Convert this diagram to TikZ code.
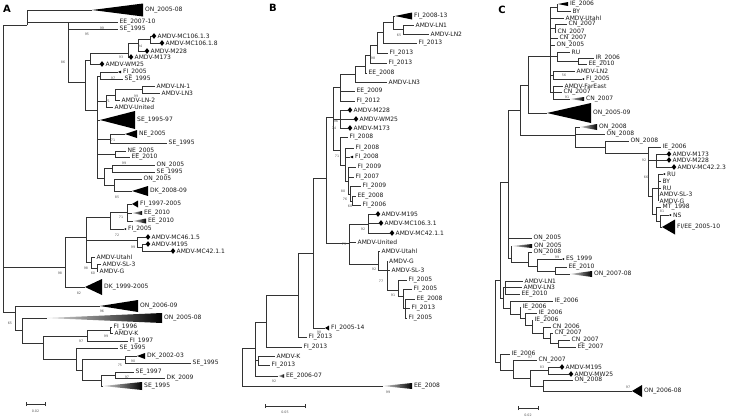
\documentclass[tikz,border=0pt]{standalone}
\usepackage{fontspec}
\setmainfont{DejaVu Sans}
\usetikzlibrary{shapes.geometric}
\tikzset{
 br/.style={draw=black!80, line width=0.75pt},
 lab/.style={anchor=west, inner sep=0pt, font=\fontsize{6}{6}\selectfont, text=black!90},
 bsv/.style={inner sep=0pt, font=\fontsize{3.3}{4}\selectfont, text=black!65},
 dm/.style={diamond, fill=black, inner sep=0pt, minimum width=4.8pt, minimum height=5.8pt},
 plab/.style={inner sep=0pt, font=\fontsize{10}{10}\selectfont\bfseries},
}
% internal node: parent, name, x, y
\newcommand\tIn[4]{\coordinate (#2) at (#3,#4); \draw[br] (#1) |- (#2);}
% leaf: parent, name, x, y, label
\newcommand\tLf[5]{\coordinate (#2) at (#3,#4); \draw[br] (#1) |- (#2); \node[lab] (#2t) at ([xshift=1.5pt]#2) {#5};}
% diamond leaf
\newcommand\tDm[5]{\coordinate (#2) at (#3,#4); \draw[br] (#1) |- (#2); \node[dm] (#2d) at ([xshift=2pt]#2) {}; \node[lab] (#2t) at ([xshift=5.5pt]#2) {#5};}
% collapsed triangle: parent, name, xa, y, xb, h, label
\newcommand\tTr[7]{\coordinate (#2) at (#3,#4); \draw[br] (#1) |- (#2); \fill[black] (#2) -- (#5,#4-#6) -- (#5,#4+#6) -- cycle; \node[lab] (#2t) at (#5+2,#4) {#7};}
% shaded wedge
\newcommand\tWg[7]{\coordinate (#2) at (#3,#4); \draw[br] (#1) |- (#2); \shade[left color=black!15, middle color=black!85, right color=black] (#2) -- (#5,#4-#6) -- (#5,#4+#6) -- cycle; \node[lab] (#2t) at (#5+2,#4) {#7};}
% bootstrap value
\newcommand\tBs[4]{\node[bsv] (#1) at (#2,#3) {#4};}
\begin{document}
\begin{tikzpicture}[x=1pt,y=-1pt]
\fill[white] (0,0) rectangle (729,418);
\useasboundingbox (0,0) rectangle (729,418);

% ================= PANEL A =================
\node[plab] (pA) at (7,9) {A};
\coordinate (aR) at (3,267);
\tIn{aR}{a1}{27}{25}
\tTr{a1}{aL1}{92}{10}{143}{6.5}{ON\_2005-08}
\tIn{a1}{a86}{68}{22}
\tLf{a86}{aL2}{118}{22}{EE\_2007-10}
\tLf{a86}{aL3}{118}{29}{SE\_1995}
\tIn{a86}{a85}{85}{82}
\tIn{a85}{aWM}{90}{60}
\tDm{aWM}{aL8}{100}{64}{AMDV-WM25}
\tIn{aWM}{aM173}{128}{53}
\tDm{aM173}{aL7}{129}{57}{AMDV-M173}
\tIn{aM173}{aM228}{138}{43}
\tDm{aM228}{aL6}{145}{51}{AMDV-M228}
\tIn{aM228}{aMC}{150}{39.5}
\tDm{aMC}{aL4}{152}{36}{AMDV-MC106.1.3}
\tDm{aMC}{aL5}{160}{43}{AMDV-MC106.1.8}
\tIn{a85}{a96}{97}{110}
\tIn{a96}{a97}{100}{76}
\tTr{a97}{aL9}{118}{72}{121}{1.3}{FI\_2005}
\tLf{a97}{aL10}{123}{79}{SE\_1995}
\tIn{a96}{a71}{106}{101}
\tIn{a71}{aLN2}{115}{95}
\tIn{aLN2}{aLN}{142}{89.5}
\tLf{aLN}{aL11}{155}{86}{AMDV-LN-1}
\tLf{aLN}{aL12}{160}{93}{AMDV-LN3}
\tLf{aLN2}{aL13}{120}{100}{AMDV-LN-2}
\tLf{a71}{aL14}{113}{107}{AMDV-United}
\tTr{a96}{aL15}{100}{120}{135}{9}{SE\_1995-97}
\tIn{a96}{a71b}{110}{139}
\tTr{a71b}{aL16}{125}{134}{137}{4}{NE\_2005}
\tLf{a71b}{aL17}{167}{143}{SE\_1995}
\tIn{a96}{aNE}{115}{154}
\tLf{aNE}{aL18}{126}{151}{NE\_2005}
\tLf{aNE}{aL19}{130}{157}{EE\_2010}
\tIn{a96}{aBk}{104}{178}
\tIn{aBk}{a99b}{112}{168}
\tLf{a99b}{aL20}{155}{165}{ON\_2005}
\tLf{a99b}{aL21}{155}{172}{SE\_1995}
\tIn{aBk}{aDK}{114}{185}
\tLf{aDK}{aL22}{142}{179}{ON\_2005}
\tTr{aDK}{aL23}{132}{191}{148}{5}{DK\_2008-09}
\tIn{aR}{a98}{65}{267}
\tIn{a98}{aX}{86}{237}
\tIn{aX}{a110}{110}{217}
\tIn{a110}{aFIb}{127}{212}
\tTr{aFIb}{aL24}{132}{204}{138}{3.5}{FI\_1997-2005}
\tWg{aFIb}{aL25}{132}{213}{142}{2}{EE\_2010}
\tWg{aFIb}{aL26}{133}{221}{146}{2.5}{EE\_2010}
\tTr{a110}{aL27}{124}{229}{126}{1}{FI\_2005}
\tIn{aX}{aMC46}{137}{240}
\tDm{aMC46}{aL28}{146}{237}{AMDV-MC46.1.5}
\tIn{aMC46}{aM195}{142}{247}
\tDm{aM195}{aL29}{146}{244}{AMDV-M195}
\tDm{aM195}{aL30}{171}{251}{AMDV-MC42.1.1}
\tIn{aX}{aUt}{91}{262}
\tLf{aUt}{aL31}{95}{257}{AMDV-Utahl}
\tIn{aUt}{aSL}{97}{268}
\tLf{aSL}{aL32}{101}{264}{AMDV-SL-3}
\tLf{aSL}{aL33}{98}{271}{AMDV-G}
\tTr{a98}{aL34}{85}{287}{102}{8}{DK\_1999-2005}
\tIn{aR}{a65}{15}{312}
\tTr{a65}{aL35}{100}{306}{138}{6}{ON\_2006-09}
\tIn{a65}{a22}{22}{330}
\tWg{a22}{aL36}{47}{318}{162}{5}{ON\_2005-08}
\tIn{a22}{a43}{43}{343}
\tIn{a43}{a87}{87}{336}
\tIn{a87}{aFI}{110}{330}
\tLf{aFI}{aL37}{112}{327}{FI\_1996}
\tLf{aFI}{aL38}{113}{333}{AMDV-K}
\tLf{a87}{aL39}{128}{341}{FI\_1997}
\tIn{a43}{a76}{76}{359}
\tLf{a76}{aL40}{118}{348}{SE\_1995}
\tIn{a76}{a82}{82}{370}
\tIn{a82}{a125}{125}{359}
\tTr{a125}{aL41}{137}{356}{145}{3}{DK\_2002-03}
\tLf{a125}{aL42}{191}{363}{SE\_1995}
\tIn{a82}{a101}{101}{380}
\tIn{a101}{a115}{115}{375}
\tLf{a115}{aL43}{134}{372}{SE\_1997}
\tLf{a115}{aL44}{165}{378}{DK\_2009}
\tWg{a101}{aL45}{103}{386}{142}{4}{SE\_1995}
% bootstrap A
\tBs{ab1}{87}{34}{95} \tBs{ab2}{102}{28}{99} \tBs{ab3}{140}{46}{94}
\tBs{ab4}{121}{57}{93} \tBs{ab5}{63}{62}{86} \tBs{ab6}{113}{78}{97}
\tBs{ab7}{136}{96}{99} \tBs{ab8}{108}{101}{71} \tBs{ab9}{113}{140}{71}
\tBs{ab10}{124}{163}{99} \tBs{ab11}{117}{197}{85} \tBs{ab12}{121}{217}{71}
\tBs{ab13}{117}{235}{72} \tBs{ab14}{133}{247}{99} \tBs{ab15}{86}{268}{98}
\tBs{ab16}{93}{273}{60} \tBs{ab17}{60}{273}{98} \tBs{ab18}{79}{293}{82}
\tBs{ab19}{102}{311}{96} \tBs{ab20}{10}{323}{65} \tBs{ab21}{106}{336}{99}
\tBs{ab22}{81}{341}{97} \tBs{ab23}{133}{361}{90} \tBs{ab24}{120}{365}{75}
\tBs{ab25}{127}{377}{97}
% scale A
\coordinate (sA1) at (26,404); \coordinate (sA2) at (45,404);
\draw[br] (sA1) -- (sA2);
\draw[br] ([yshift=-2pt]sA1) -- ([yshift=2pt]sA1);
\draw[br] ([yshift=-2pt]sA2) -- ([yshift=2pt]sA2);
\node[bsv] (sAl) at (35.5,411) {0.02};

% ================= PANEL B =================
\node[plab] (pB) at (273,8) {B};
\coordinate (bR) at (242,367);
\tIn{bR}{bB1}{255}{348}
\tWg{bR}{bL1}{383}{386}{412}{3}{EE\_2008}
\tIn{bB1}{bK}{258}{360}
\tLf{bK}{bL2}{275}{356}{AMDV-K}
\tLf{bK}{bL3}{270}{365}{FI\_2013}
\tWg{bB1}{bL4}{278}{376}{284}{1.8}{EE\_2006-07}
\tIn{bB1}{bB2}{266}{322}
\tLf{bB2}{bL5}{302}{347}{FI\_2013}
\tIn{bB2}{bB3}{298}{295}
\tLf{bB3}{bL6}{307}{337}{FI\_2013}
\tIn{bB3}{bB4}{313}{253}
\tTr{bB4}{bL7}{325}{328}{329}{2.5}{FI\_2005-14}
\tIn{bB4}{bB5}{326}{178}
\tIn{bB5}{bB6}{333}{117}
\tIn{bB6}{bB340}{340}{87}
\tLf{bB340}{bL8}{355}{91}{EE\_2009}
\tLf{bB340}{bL9}{355}{101}{FI\_2012}
\tIn{bB340}{bN355}{355}{74}
\tLf{bN355}{bL10}{387}{82}{AMDV-LN3}
\tIn{bN355}{bN366}{365}{66}
\tLf{bN366}{bL11}{367}{73}{EE\_2008}
\tIn{bN366}{bN370}{370}{55}
\tLf{bN370}{bL12}{387}{63}{FI\_2013}
\tIn{bN370}{bN377}{377}{45}
\tLf{bN377}{bL13}{388}{53}{FI\_2013}
\tIn{bN377}{bN383}{383}{32}
\tLf{bN383}{bL14}{417}{43}{FI\_2013}
\tIn{bN383}{bN393}{393}{22}
\tTr{bN393}{bL15}{395}{16}{412}{3.5}{FI\_2008-13}
\tIn{bN393}{bLN}{403}{29.5}
\tLf{bLN}{bL16}{414}{25}{AMDV-LN1}
\tLf{bLN}{bL17}{429}{34}{AMDV-LN2}
\tIn{bB6}{bBM}{340}{119}
\tDm{bBM}{bL18}{348}{110}{AMDV-M228}
\tDm{bBM}{bL19}{354}{119}{AMDV-WM25}
\tDm{bBM}{bL20}{348}{128}{AMDV-M173}
\tIn{bB6}{bB71}{340}{150}
\tLf{bB71}{bL21}{348}{137}{FI\_2008}
\tIn{bB71}{bB8}{345}{165}
\tLf{bB8}{bL22}{354}{148}{FI\_2008}
\tTr{bB8}{bL23}{350}{157}{353}{1.3}{FI\_2008}
\tIn{bB8}{bB9}{348}{181}
\tLf{bB9}{bL24}{356}{167}{FI\_2009}
\tLf{bB9}{bL25}{354}{177}{FI\_2007}
\tIn{bB9}{bB80}{350}{194}
\tLf{bB80}{bL26}{361}{186}{FI\_2009}
\tIn{bB80}{bB76}{352}{201}
\tLf{bB76}{bL27}{356}{196}{EE\_2008}
\tLf{bB76}{bL28}{361}{205}{FI\_2006}
\tIn{bB5}{bB73}{349}{243}
\tIn{bB73}{bM195}{368}{224}
\tDm{bM195}{bL29}{376}{214}{AMDV-M195}
\tDm{bM195}{bL30}{379}{223}{AMDV-MC106.3.1}
\tDm{bM195}{bL31}{390}{233}{AMDV-MC42.1.1}
\tLf{bB73}{bL32}{356}{242}{AMDV-United}
\tIn{bB73}{bUt}{378}{264}
\tLf{bUt}{bL33}{380}{251}{AMDV-Utahl}
\tIn{bUt}{bBG}{387}{270}
\tLf{bBG}{bL34}{387.5}{261}{AMDV-G}
\tLf{bBG}{bL35}{390}{270}{AMDV-SL-3}
\tIn{bBG}{bB91}{398}{290}
\tLf{bB91}{bL36}{407}{280}{FI\_2005}
\tIn{bB91}{bB403}{403}{296}
\tLf{bB403}{bL37}{412}{289}{FI\_2005}
\tIn{bB403}{bB405}{405}{308}
\tLf{bB405}{bL38}{415}{299}{EE\_2008}
\tLf{bB405}{bL39}{410}{308}{FI\_2013}
\tLf{bB405}{bL40}{407}{318}{FI\_2005}
% bootstrap B
\tBs{bb1}{399}{35}{65} \tBs{bb2}{373}{58}{98} \tBs{bb3}{336}{121}{96}
\tBs{bb4}{334}{128}{74} \tBs{bb5}{337}{156}{71} \tBs{bb6}{343}{191}{80}
\tBs{bb7}{345}{199}{76} \tBs{bb8}{350}{206}{60} \tBs{bb9}{363}{229}{92}
\tBs{bb10}{344}{244}{73} \tBs{bb11}{374}{269}{92} \tBs{bb12}{381}{281}{77}
\tBs{bb13}{393}{295}{91} \tBs{bb14}{319}{332}{98} \tBs{bb15}{274}{381}{92}
\tBs{bb16}{388}{392}{99}
% scale B
\coordinate (sB1) at (265,406); \coordinate (sB2) at (305,406);
\draw[br] (sB1) -- (sB2);
\draw[br] ([yshift=-2pt]sB1) -- ([yshift=2pt]sB1);
\draw[br] ([yshift=-2pt]sB2) -- ([yshift=2pt]sB2);
\node[bsv] (sBl) at (285,412) {0.05};

% ================= PANEL C =================
\node[plab] (pC) at (502,10) {C};
\coordinate (cR) at (495,320);
\tIn{cR}{cC500}{500}{280}
\tIn{cC500}{cC508}{508}{182}
\tIn{cC508}{cC519}{520}{110}
\tIn{cC519}{cC528}{528}{85}
\tIn{cC528}{cTop}{550}{56}
\tIn{cTop}{cIE}{557}{7.5}
\tTr{cIE}{cL1}{558}{4}{568}{2}{IE\_2006}
\tLf{cIE}{cL2}{571}{11}{BY}
\tLf{cTop}{cL3}{564}{18}{AMDV-Utahl}
\tIn{cTop}{cCN}{555}{28}
\tLf{cCN}{cL4}{567}{24}{CN\_2007}
\tLf{cCN}{cL5}{556}{32}{CN\_2007}
\tLf{cTop}{cL6}{558}{38}{CN\_2007}
\tLf{cTop}{cL7}{555}{45}{ON\_2005}
\tIn{cTop}{cRU}{557}{56}
\tLf{cRU}{cL8}{570}{52}{RU}
\tIn{cRU}{cIR}{578}{61}
\tLf{cIR}{cL9}{594}{58}{IR\_2006}
\tLf{cIR}{cL10}{587}{64}{EE\_2010}
\tIn{cTop}{cLN2}{553}{75}
\tLf{cLN2}{cL11}{575}{71}{AMDV-LN2}
\tTr{cLN2}{cL12}{582}{79}{584}{1}{FI\_2005}
\tIn{cTop}{cFE}{553}{92}
\tLf{cFE}{cL13}{563}{86}{AMDV-FarEast}
\tLf{cFE}{cL14}{562}{92}{CN\_2007}
\tWg{cFE}{cL15}{570}{99}{584}{2}{CN\_2007}
\tTr{cC528}{cL16}{547}{113}{591}{10}{ON\_2005-09}
\tIn{cC519}{cC575}{575}{135}
\tWg{cC575}{cL17}{580}{127}{597}{3}{ON\_2008}
\tLf{cC575}{cL18}{605}{134}{ON\_2008}
\tIn{cC575}{cC605}{605}{147}
\tLf{cC605}{cL19}{629}{141}{ON\_2008}
\tIn{cC605}{cC648}{648}{153}
\tLf{cC648}{cL20}{661}{147}{IE\_2006}
\tIn{cC648}{cCM}{656}{160}
\tDm{cCM}{cL21}{667}{154}{AMDV-M173}
\tDm{cCM}{cL22}{667}{160}{AMDV-M228}
\tDm{cCM}{cL23}{672}{167}{AMDV-MC42.2.3}
\tIn{cC648}{cC66}{652}{196}
\tIn{cC66}{cPoly}{658}{188}
\tTr{cPoly}{cL24}{663}{174}{665}{1}{RU}
\tLf{cPoly}{cL25}{661}{181}{BY}
\tLf{cPoly}{cL26}{661}{188}{RU}
\tLf{cPoly}{cL27}{658}{194}{AMDV-SL-3}
\tLf{cPoly}{cL28}{658}{201}{AMDV-G}
\tIn{cC66}{cC81}{656}{214}
\tLf{cC81}{cL29}{661}{207}{MT\_1998}
\tIn{cC81}{cNS}{660}{221}
\tTr{cNS}{cL30}{669}{215}{671}{1}{NS}
\tTr{cNS}{cL31}{662}{227}{675}{7.5}{FI/EE\_2005-10}
\tLf{cC508}{cL32}{532}{238}{ON\_2005}
\tIn{cC508}{cCE1}{511}{258}
\tWg{cCE1}{cL33}{512}{246}{532}{2}{ON\_2005}
\tIn{cCE1}{cCE2}{528}{262}
\tLf{cCE2}{cL34}{532}{252}{ON\_2008}
\tIn{cCE2}{cCE3}{537}{266}
\tTr{cCE3}{cL35}{562}{259}{564}{1}{ES\_1999}
\tIn{cCE3}{cCE4}{555}{271}
\tLf{cCE4}{cL36}{567}{267}{EE\_2010}
\tWg{cCE4}{cL37}{570}{274}{592}{3}{ON\_2007-08}
\tIn{cC500}{cUp}{503}{298}
\tIn{cUp}{cLN}{505}{287}
\tLf{cLN}{cL38}{523}{281}{AMDV-LN1}
\tLf{cLN}{cL39}{522}{287}{AMDV-LN3}
\tLf{cLN}{cL40}{520}{294}{EE\_2010}
\tIn{cUp}{cQ1}{510}{308}
\tLf{cQ1}{cL41}{553}{301}{IE\_2006}
\tIn{cQ1}{cQ2}{520}{314}
\tLf{cQ2}{cL42}{521}{307}{IE\_2006}
\tIn{cQ2}{cQ3}{525}{318}
\tLf{cQ3}{cL43}{537}{313}{IE\_2006}
\tIn{cQ3}{cQ4}{532}{325}
\tLf{cQ4}{cL44}{533}{320}{IE\_2006}
\tIn{cQ4}{cQ5}{543}{333}
\tLf{cQ5}{cL45}{551}{327}{CN\_2006}
\tIn{cQ5}{cQ6}{550}{338}
\tLf{cQ6}{cL46}{553}{333}{CN\_2007}
\tIn{cQ6}{cQ7}{558}{343}
\tLf{cQ7}{cL47}{570}{340}{CN\_2007}
\tLf{cQ7}{cL48}{576}{347}{EE\_2007}
\tIn{cR}{cCb}{500}{362}
\tLf{cCb}{cL49}{510}{354}{IE\_2006}
\tIn{cCb}{cCc}{513}{370}
\tLf{cCc}{cL50}{537}{360}{CN\_2007}
\tIn{cCc}{cCd}{530}{378}
\tIn{cCd}{cC83}{548}{370}
\tDm{cC83}{cL51}{560}{367}{AMDV-M195}
\tDm{cC83}{cL52}{569}{374}{AMDV-MW25}
\tIn{cCd}{cC543}{543}{386}
\tLf{cC543}{cL53}{573}{380}{ON\_2008}
\tTr{cC543}{cL54}{632}{391}{642}{6}{ON\_2006-08}
% bootstrap C
\tBs{cb1}{564}{75}{56} \tBs{cb2}{567}{97}{91} \tBs{cb3}{644}{160}{92}
\tBs{cb4}{646}{177}{66} \tBs{cb5}{662}{211}{81} \tBs{cb6}{557}{257}{99}
\tBs{cb7}{530}{357}{97} \tBs{cb8}{542}{367}{83} \tBs{cb9}{628}{387}{97}
% scale C
\coordinate (sC1) at (518,408); \coordinate (sC2) at (538,408);
\draw[br] (sC1) -- (sC2);
\draw[br] ([yshift=-2pt]sC1) -- ([yshift=2pt]sC1);
\draw[br] ([yshift=-2pt]sC2) -- ([yshift=2pt]sC2);
\node[bsv] (sCl) at (528,415) {0.02};
\end{tikzpicture}
\end{document}
